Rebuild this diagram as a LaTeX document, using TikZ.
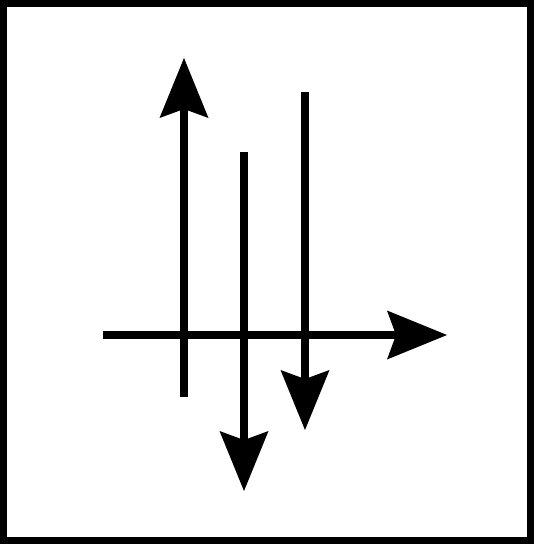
\documentclass[tikz,border=0pt]{standalone}
\usetikzlibrary{arrows.meta}
\begin{document}
\begin{tikzpicture}[x=1pt,y=-1pt,
  framebox/.style={draw=black,line width=7pt},
  bigarrow/.style={draw=black,line width=8pt,
    -{Stealth[length=60pt,width=49pt,inset=9pt,line width=0pt]}}]
\useasboundingbox (0,0) rectangle (537,546);
\draw[framebox] (3.5,3.5) rectangle (530,540);
% endpoints
\coordinate (upS) at (184,397);
\coordinate (upE) at (184,58);
\coordinate (hS) at (103,335);
\coordinate (hE) at (447,335);
\coordinate (mS) at (244,152);
\coordinate (mE) at (244,491);
\coordinate (rS) at (305,92);
\coordinate (rE) at (305,430);
\draw[bigarrow] (upS) -- (upE);
\draw[bigarrow] (hS) -- (hE);
\draw[bigarrow] (mS) -- (mE);
\draw[bigarrow] (rS) -- (rE);
\end{tikzpicture}
\end{document}
